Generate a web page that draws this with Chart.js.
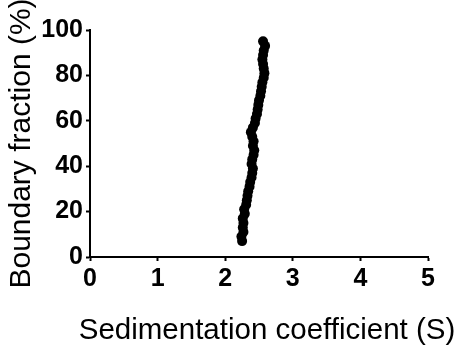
<!DOCTYPE html>
<html>
<head>
<meta charset="utf-8">
<script src="https://cdn.jsdelivr.net/npm/chart.js@4"></script>
<style>
  html, body { margin: 0; padding: 0; background: #fff; }
  canvas { display: block; }
</style>
</head>
<body>
<canvas id="chart" width="456" height="350"></canvas>
<script>
// values
var sedCoeff = [2.25, 2.24, 2.27, 2.26, 2.27, 2.26, 2.29, 2.28, 2.31, 2.32, 2.33, 2.34, 2.36, 2.37, 2.39,
  2.40, 2.41, 2.39, 2.40, 2.42, 2.43, 2.41, 2.42, 2.40, 2.38, 2.41, 2.44, 2.45, 2.47, 2.48,
  2.49, 2.50, 2.52, 2.53, 2.54, 2.55, 2.57, 2.58, 2.57, 2.56, 2.55, 2.56, 2.57, 2.59, 2.56];
var boundaryFrac = [7, 9, 11, 13, 15, 17, 19, 21, 23, 25, 27, 29, 31, 33, 35,
  37, 39, 41, 43, 45, 47, 49, 51, 53, 55, 57, 59, 61, 63, 65,
  67, 69, 71, 73, 75, 77, 79, 81, 83, 85, 87, 89, 91, 93, 95];
var xTicks = [0, 1, 2, 3, 4, 5];
var yTicks = [0, 20, 40, 60, 80, 100];
var xTitle = 'Sedimentation coefficient (S)';
var yTitle = 'Boundary fraction (%)';

var FONT = '"Liberation Sans", Arial, Helvetica, sans-serif';

var points = sedCoeff.map(function(x, i) { return { x: x, y: boundaryFrac[i] }; });

// x title sits a little right of the axis centre in the original
var xTitlePlugin = {
  id: 'xTitle',
  afterDraw: function(chart) {
    var ctx = chart.ctx;
    var area = chart.chartArea;
    ctx.save();
    ctx.font = '29.5px ' + FONT;
    ctx.fillStyle = '#000';
    ctx.textAlign = 'center';
    ctx.textBaseline = 'middle';
    ctx.fillText(xTitle, (area.left + area.right) / 2 + 8, 331);
    ctx.restore();
  }
};

new Chart(document.getElementById('chart'), {
  type: 'scatter',
  data: {
    datasets: [{
      data: points,
      pointRadius: 5,
      pointHoverRadius: 5,
      pointBackgroundColor: '#000',
      pointBorderWidth: 0
    }]
  },
  options: {
    responsive: false,
    animation: false,
    devicePixelRatio: 1,
    layout: { padding: { top: 30, right: 28, left: 0, bottom: 0 } },
    plugins: { legend: { display: false }, tooltip: { enabled: false } },
    scales: {
      x: {
        type: 'linear',
        min: 0,
        max: 5,
        afterFit: function(scale) { scale.height = 93; },
        afterBuildTicks: function(scale) { scale.ticks = xTicks.map(function(v) { return { value: v }; }); },
        grid: { drawOnChartArea: false, tickLength: 4, tickWidth: 2, tickColor: '#000' },
        border: { color: '#000', width: 2 },
        ticks: { color: '#000', padding: 3, font: { family: FONT, size: 25, weight: 'bold' } }
      },
      y: {
        type: 'linear',
        min: 0,
        max: 100,
        afterFit: function(scale) { scale.width = 90; },
        afterBuildTicks: function(scale) { scale.ticks = yTicks.map(function(v) { return { value: v }; }); },
        grid: { drawOnChartArea: false, tickLength: 4, tickWidth: 2, tickColor: '#000' },
        border: { color: '#000', width: 2 },
        ticks: { color: '#000', padding: 3, font: { family: FONT, size: 25, weight: 'bold' } },
        title: { display: true, text: yTitle, color: '#000', padding: { top: 4, bottom: 0 }, font: { family: FONT, size: 30 } }
      }
    }
  },
  plugins: [xTitlePlugin]
});
</script>
</body>
</html>
